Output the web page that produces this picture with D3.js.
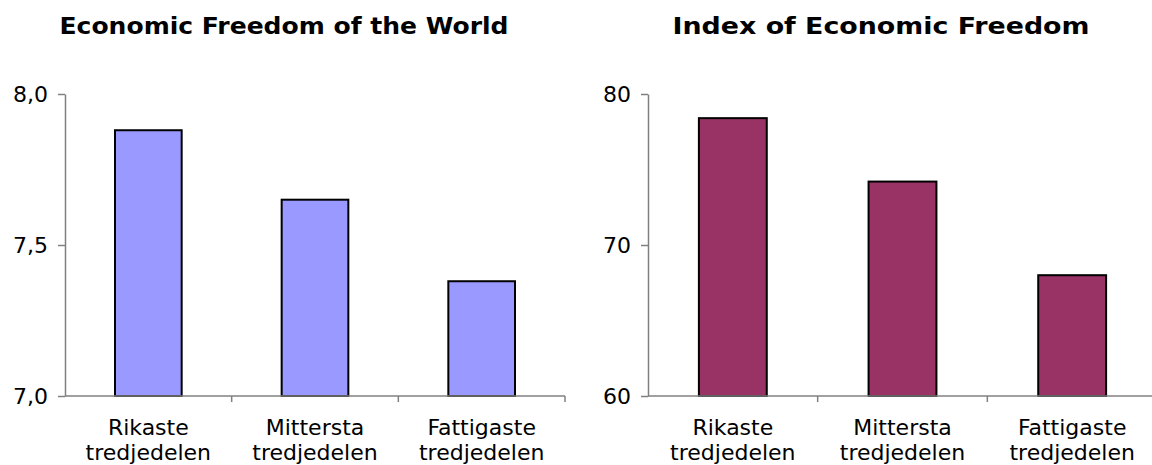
<!DOCTYPE html>
<html>
<head>
<meta charset="utf-8">
<script src="https://cdn.jsdelivr.net/npm/d3@7"></script>
<style>
  html, body { margin: 0; padding: 0; background: #fff; }
  svg { display: block; }
  text { font-family: "DejaVu Sans", Verdana, sans-serif; fill: #000; }
</style>
</head>
<body>
<svg id="chart" width="1152" height="465"></svg>
<script>
// ---- data ----
const categories = ["Rikaste tredjedelen", "Mittersta tredjedelen", "Fattigaste tredjedelen"];
const efwValues = [7.88, 7.65, 7.38];
const ieValues = [78.4, 74.2, 68.0];
const efwTicks = [7.0, 7.5, 8.0];
const ieTicks = [60, 70, 80];
const titles = ["Economic Freedom of the World", "Index of Economic Freedom"];

const svg = d3.select("#chart");
const fmtComma = d => d3.format(".1f")(d).replace(".", ",");
const fmtInt = d3.format("d");

function drawPanel(opts) {
  const { x0, x1, yTop, yBottom, domain, ticks, values, fill, title, titleX, titleW, fmt } = opts;
  const g = svg.append("g");

  const y = d3.scaleLinear().domain(domain).range([yBottom, yTop]);
  const slot = d3.scaleBand().domain(categories).range([x0, x1]).padding(0);
  const xb = d3.scaleBand().domain(categories).range([x0, x1]).paddingInner(0.6).paddingOuter(0.3);

  // title
  g.append("text")
    .attr("x", titleX - titleW / 2).attr("y", 34)
    .attr("textLength", titleW)
    .attr("lengthAdjust", "spacingAndGlyphs")
    .style("font-weight", "bold").style("font-size", "23.5px")
    .text(title);

  // bars
  g.selectAll("rect.bar").data(values).join("rect")
    .attr("class", "bar")
    .attr("x", (d, i) => xb(categories[i]))
    .attr("width", xb.bandwidth())
    .attr("y", d => y(d))
    .attr("height", d => y(domain[0]) - y(d))
    .attr("fill", fill)
    .attr("stroke", "#000")
    .attr("stroke-width", 2);

  // y axis
  const ya = d3.axisLeft(y).tickValues(ticks).tickFormat(fmt).tickSize(7).tickSizeOuter(0).tickPadding(10);
  const yg = g.append("g").attr("transform", `translate(${x0},0)`).call(ya);
  yg.select(".domain").attr("stroke", "#808080").attr("stroke-width", 1.5);
  yg.selectAll(".tick line").attr("stroke", "#808080").attr("stroke-width", 1.5);
  yg.selectAll(".tick text").style("font-size", "22px").style("font-family", "'DejaVu Sans', Verdana, sans-serif").attr("fill", "#000");

  // x axis line
  g.append("line")
    .attr("x1", x0).attr("x2", x1)
    .attr("y1", y(domain[0])).attr("y2", y(domain[0]))
    .attr("stroke", "#808080").attr("stroke-width", 1.5);
  // boundary ticks
  g.selectAll("line.xtick").data(categories).join("line")
    .attr("class", "xtick")
    .attr("x1", d => slot(d) + slot.bandwidth()).attr("x2", d => slot(d) + slot.bandwidth())
    .attr("y1", y(domain[0])).attr("y2", y(domain[0]) + 6)
    .attr("stroke", "#808080").attr("stroke-width", 1.5);

  // category labels
  const lab = g.selectAll("text.cat").data(categories).join("text")
    .attr("class", "cat")
    .attr("text-anchor", "middle")
    .style("font-size", "22px");
  lab.each(function(d) {
    const parts = d.split(" ");
    const cx = slot(d) + slot.bandwidth() / 2;
    d3.select(this).selectAll("tspan").data(parts).join("tspan")
      .attr("x", cx)
      .attr("y", (p, j) => 435 + j * 25)
      .text(p => p);
  });
}

drawPanel({
  x0: 65, x1: 565, yTop: 94, yBottom: 396,
  domain: [7, 8], ticks: efwTicks, values: efwValues,
  fill: "#9999FF", title: titles[0], titleX: 284, titleW: 449, fmt: fmtComma
});
drawPanel({
  x0: 648, x1: 1157, yTop: 94, yBottom: 396,
  domain: [60, 80], ticks: ieTicks, values: ieValues,
  fill: "#993366", title: titles[1], titleX: 881, titleW: 417, fmt: fmtInt
});
</script>
</body>
</html>
